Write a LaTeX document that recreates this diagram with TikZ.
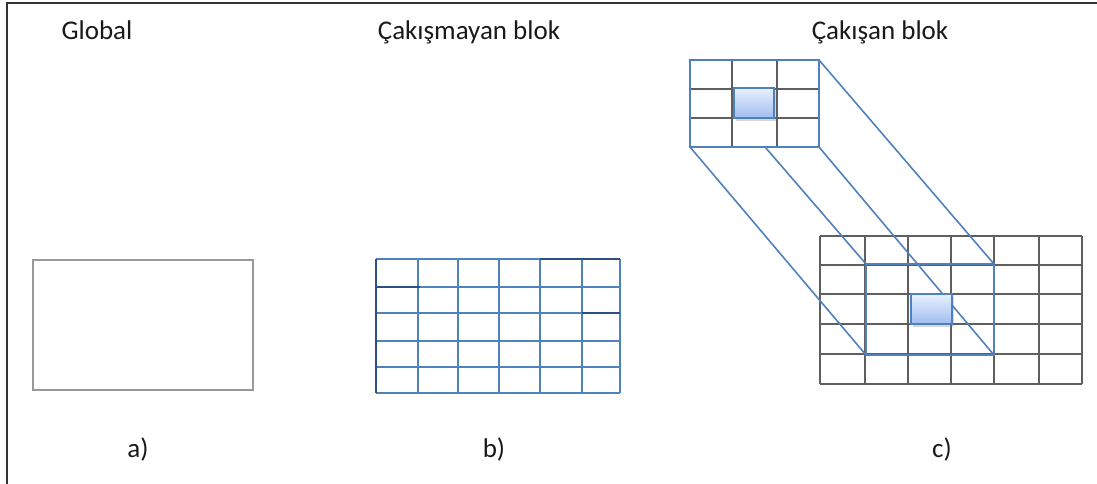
\documentclass[tikz,border=0pt]{standalone}
\usepackage{fontspec}
\setmainfont{Carlito}
\usetikzlibrary{shadows}
\definecolor{obl}{RGB}{79,129,189}
\definecolor{obldark}{RGB}{45,80,130}
\definecolor{gline}{RGB}{95,95,95}
\definecolor{txt}{RGB}{25,25,25}
\definecolor{hltop}{RGB}{232,240,253}
\definecolor{hlbot}{RGB}{160,190,240}
\tikzset{
  lbl/.style={anchor=base, inner sep=0pt, text=txt, font=\fontsize{27}{32}\selectfont},
  grayline/.style={draw=gline, line width=1.5pt},
  blueline/.style={draw=obl, line width=1.6pt},
  frame/.style={draw=obl, line width=1.8pt, inner sep=0pt, outer sep=0pt},
  hl/.style={draw=obl, line width=1.2pt, inner sep=0pt, outer sep=0pt,
    top color=hltop, bottom color=hlbot,
    drop shadow={shadow xshift=2pt, shadow yshift=-3pt, opacity=0.3, fill=gray}},
}
\begin{document}
\begin{tikzpicture}[x=1pt, y=-1pt]
\useasboundingbox (0,0) rectangle (1097,484);
% outer frame (top and left)
\draw[line width=2pt, draw=black!80] (7,484) -- (7,3) -- (1097,3);

% titles
\node[lbl] (tga) at (97,40) {Global};
\node[lbl] (tgb) at (469,40) {Çakışmayan blok};
\node[lbl] (tgc) at (880,40) {Çakışan blok};
\node[lbl] (la) at (138,457) {a)};
\node[lbl] (lb) at (494,457) {b)};
\node[lbl] (lc) at (942,457) {c)};

% a) global
\node[draw=black!40, line width=1.5pt, inner sep=0pt, outer sep=0pt,
  minimum width=220pt, minimum height=130pt, anchor=north west] (ga) at (33,260) {};

% b) non-overlapping blocks
\foreach \x in {418,458,499,540,582,620}
  \draw[blueline] (\x,259) -- (\x,393);
\foreach \y in {259,287,313,341,367,393}
  \draw[blueline] (376,\y) -- (620,\y);
\draw[draw=obldark, line width=1.8pt] (376,259) -- (376,393);
\draw[draw=obldark, line width=1.2pt] (376,287) -- (420,287);
\draw[draw=obldark, line width=1.2pt] (582,313) -- (620,313);
\draw[draw=obldark, line width=1.2pt] (540,259) -- (620,259);

% c) overlapping blocks: big grid
\foreach \x in {820,865,908,951,994,1039,1082}
  \draw[grayline] (\x,236) -- (\x,384);
\foreach \y in {236,265,294,324,354,384}
  \draw[grayline] (820,\y) -- (1082,\y);
\node[frame, minimum width=128pt, minimum height=91pt, anchor=north west] (bf) at (866,264) {};

% small grid (node for connectors)
\node[inner sep=0pt, outer sep=0pt, minimum width=129pt, minimum height=87pt,
  anchor=north west] (sg) at (690,60) {};

% connectors
\draw[blueline] (sg.north east) -- (bf.north east);
\draw[blueline] (sg.north west) -- (bf.north west);
\draw[blueline] (sg.south west) -- (bf.south west);
\draw[blueline] (sg.south east) -- (bf.south east);

% small grid drawn on top
\fill[white] (sg.north west) rectangle (sg.south east);
\foreach \x in {690,732,777,819}
  \draw[grayline] (\x,60) -- (\x,147);
\foreach \y in {60,89,118,147}
  \draw[grayline] (690,\y) -- (819,\y);
\draw[frame] (sg.north west) rectangle (sg.south east);

% highlighted blocks
\node[hl, minimum width=40pt, minimum height=30pt, anchor=north west] (h1) at (734,88) {};
\node[hl, minimum width=41pt, minimum height=30pt, anchor=north west] (h2) at (911,294) {};
\end{tikzpicture}
\end{document}
